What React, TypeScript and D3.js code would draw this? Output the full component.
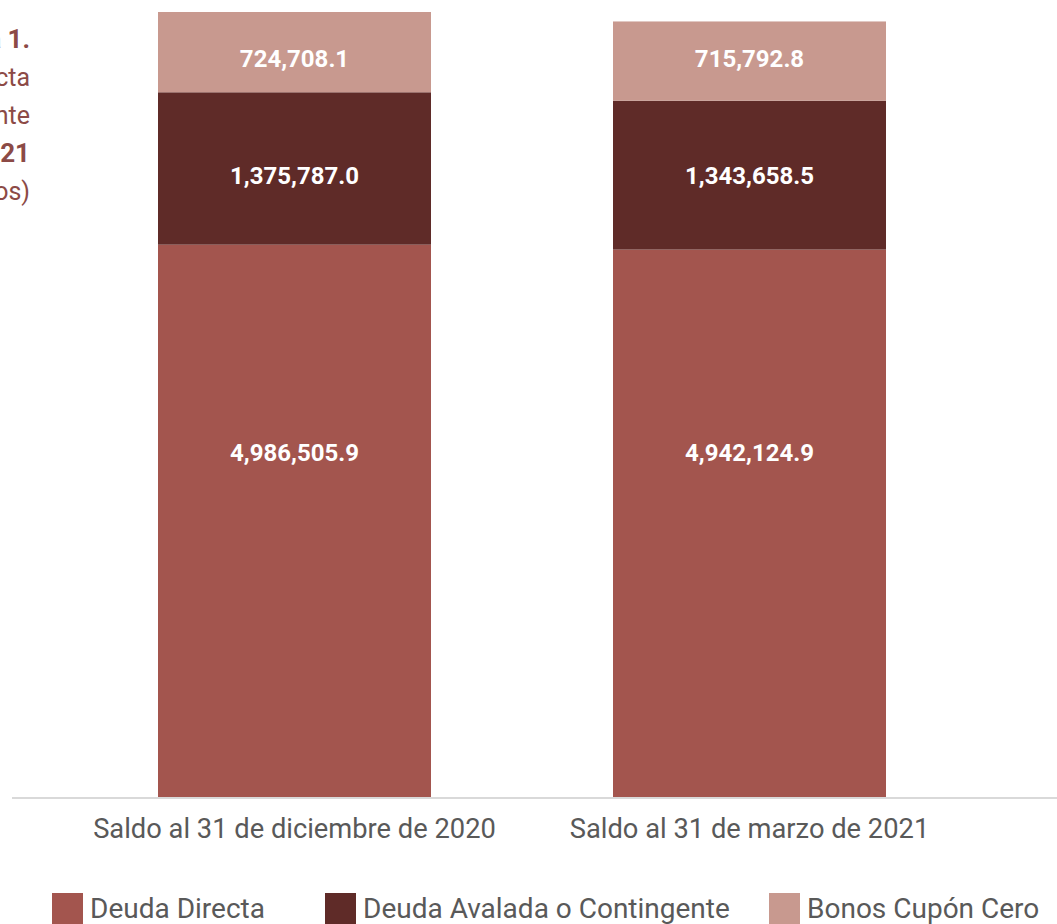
import React, { useEffect, useRef } from 'react';
import * as d3 from 'd3';

// Datos (millones de pesos)
const categories = ['Saldo al 31 de diciembre de 2020', 'Saldo al 31 de marzo de 2021'];
const seriesNames = ['Deuda Directa', 'Deuda Avalada o Contingente', 'Bonos Cupón Cero'];
const deudaDirecta = [4986505.9, 4942124.9];
const deudaAvalada = [1375787.0, 1343658.5];
const bonosCupon = [724708.1, 715792.8];
const seriesColors = ['#A3554E', '#5F2B28', '#C8998F'];
// value labels share one height per series; fraction of the average segment
const labelFrac = [0.627, 0.479, 0.483];

const titleLines = [
  { text: 'Gráfica 1.', bold: true },
  { text: 'Deuda Pública Directa', bold: false },
  { text: 'Avalada o Contingente', bold: false },
  { text: 'al 31 de marzo de 2021', bold: true },
  { text: '(Millones de pesos)', bold: false },
];

const W = 1057;
const H = 924;

const App: React.FC = () => {
  const svgRef = useRef<SVGSVGElement>(null);

  useEffect(() => {
    if (!svgRef.current) return;
    const svg = d3.select(svgRef.current);
    svg.selectAll('*').remove();

    const rows = categories.map((c, i) => ({
      cat: c,
      'Deuda Directa': deudaDirecta[i],
      'Deuda Avalada o Contingente': deudaAvalada[i],
      'Bonos Cupón Cero': bonosCupon[i],
    }));

    const stack = d3.stack<any>().keys(seriesNames);
    const layers = stack(rows);

    const x = d3.scaleBand<string>()
      .domain(categories)
      .range([-24, 1068])
      .paddingInner(0.4)
      .paddingOuter(0.4);

    const y = d3.scaleLinear()
      .domain([0, 8000000])
      .range([797, 797 - 8000000 * 1.10766e-4]);

    // title (cropped at the left edge, as in the source)
    const title = svg.append('g');
    titleLines.forEach((l, i) => {
      title.append('text')
        .attr('x', 30)
        .attr('y', 48 + i * 38)
        .attr('text-anchor', 'end')
        .style('font-family', 'Roboto, sans-serif')
        .style('font-size', l.bold ? '26px' : '25px')
        .style('font-weight', l.bold ? 700 : 400)
        .style('fill', '#8C4A46')
        .text(l.text);
    });

    // bars
    layers.forEach((layer, si) => {
      const g = svg.append('g');
      g.selectAll('rect')
        .data(layer)
        .enter().append('rect')
        .attr('x', d => x(d.data.cat) as number)
        .attr('width', x.bandwidth())
        .attr('y', d => y(d[1]))
        .attr('height', d => y(d[0]) - y(d[1]))
        .style('fill', seriesColors[si]);

      const labelVal = d3.mean(layer, d => d[0] + (d[1] - d[0]) * labelFrac[si]) as number;

      g.selectAll('text')
        .data(layer)
        .enter().append('text')
        .attr('x', d => (x(d.data.cat) as number) + x.bandwidth() / 2)
        .attr('y', y(labelVal))
        .attr('dy', '0.36em')
        .attr('text-anchor', 'middle')
        .style('font-family', 'Roboto, sans-serif')
        .style('font-size', '24px')
        .style('font-weight', 700)
        .style('fill', '#ffffff')
        .text(d => d3.format(',.1f')(d[1] - d[0]));
    });

    // axis line
    svg.append('line')
      .attr('x1', 12)
      .attr('x2', W)
      .attr('y1', y(0) + 1)
      .attr('y2', y(0) + 1)
      .style('stroke', '#D9D9D9')
      .style('stroke-width', 2);

    // category labels
    svg.append('g').selectAll('text')
      .data(categories)
      .enter().append('text')
      .attr('x', d => (x(d) as number) + x.bandwidth() / 2)
      .attr('y', 838)
      .attr('text-anchor', 'middle')
      .style('font-family', 'Roboto, sans-serif')
      .style('font-size', '27.3px')
      .style('fill', '#595959')
      .text(d => d);

    // legend
    const legendX = [52, 325, 769];
    const legend = svg.append('g');
    seriesNames.forEach((name, i) => {
      legend.append('rect')
        .attr('x', legendX[i])
        .attr('y', 893)
        .attr('width', 31)
        .attr('height', 31)
        .style('fill', seriesColors[i]);
      legend.append('text')
        .attr('x', legendX[i] + 38)
        .attr('y', 918)
        .style('font-family', 'Roboto, sans-serif')
        .style('font-size', '28px')
        .style('fill', '#595959')
        .text(name);
    });
  }, []);

  return (
    <svg
      ref={svgRef}
      width={W}
      height={H}
      style={{ position: 'absolute', left: 0, top: 0, background: '#ffffff' }}
    />
  );
};

export default App;
